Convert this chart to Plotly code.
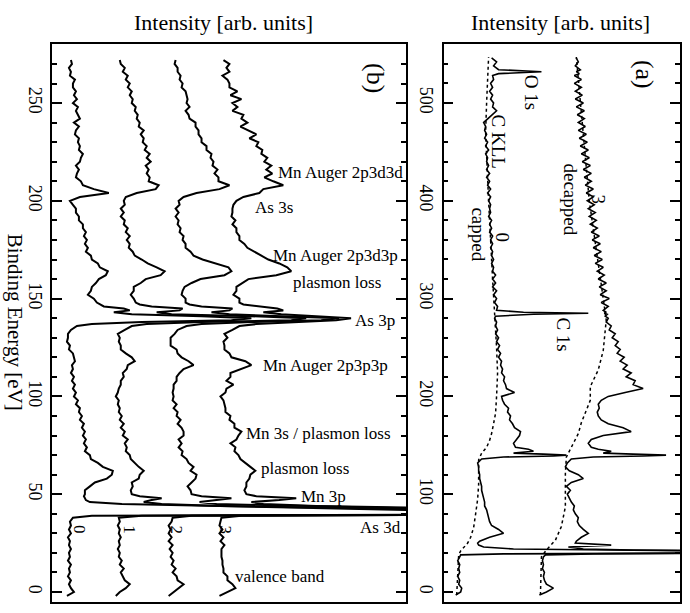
import plotly.graph_objects as go

# ---------------- Panel (b): four spectra (binding energy grid shared) ----------------
be_b = [-2, 0, 2, 4, 6, 8, 10, 12, 14, 16, 18, 20, 22, 24, 26, 28, 30, 32, 34, 36, 38,
        39, 39.5, 40, 40.5, 41, 41.5, 42, 43, 44, 45, 46, 47, 48, 49, 50,
        52, 54, 56, 58, 60, 62, 64, 66, 68, 70, 72, 74, 76, 78, 80, 82, 84, 86, 88, 90, 92,
        94, 96, 98, 100, 102, 104, 106, 108, 110, 112, 114, 116, 118, 120, 122, 124, 126,
        128, 130, 132, 134,
        136, 137, 138, 139, 140, 141, 142, 143, 144, 145, 146, 147, 148,
        150, 152, 154, 156, 158, 160, 162, 164, 166, 168, 170, 172, 174, 176, 178, 180, 182,
        184, 186, 188, 190, 192, 194, 196, 198, 200, 202, 204, 206, 208, 210, 212, 214, 216,
        218, 220, 222, 224, 226, 228, 230, 232, 234, 236, 238, 240, 242, 244, 246, 248, 250,
        252, 254, 256, 258, 260, 262, 264, 266, 268, 270, 272]

spec_0 = [15, 22, 19, 17, 19, 16, 18, 17, 19, 16, 18, 17, 19, 17, 18, 16, 19, 17, 19, 18, 21,
          40, 400, 600, 700, 650, 520, 355, 250, 150, 70, 38, 34, 33, 32, 33,
          33, 38, 43, 55, 60, 61, 51, 46, 39, 38, 33, 35, 32, 34, 31, 33, 30, 32, 28, 30, 27,
          28, 24, 26, 22, 24, 21, 23, 20, 22, 19, 21, 20, 23, 22, 21, 17, 18, 15, 16, 16, 19,
          25, 40, 90, 180, 200, 150, 80, 62, 78, 72, 52, 48, 45,
          42, 36, 39, 40, 44, 47, 54, 56, 48, 46, 40, 39, 34, 36, 33, 35, 32, 34, 31, 31, 27,
          27, 24, 24, 21, 18, 28, 57, 42, 31, 29, 24, 25, 27, 24, 28, 29, 31, 27, 28, 26, 27,
          23, 24, 27, 22, 28, 26, 24, 26, 21, 25, 22, 24, 21, 21, 23, 18, 19, 17, 20, 19]

spec_1 = [64, 68, 74, 78, 73, 71, 69, 72, 68, 70, 67, 68, 66, 68, 67, 69, 67, 68, 66, 68, 67,
          90, 420, 620, 720, 680, 540, 400, 290, 170, 110, 92, 100, 110, 88, 80,
          79, 81, 80, 87, 88, 92, 87, 83, 79, 78, 74, 75, 73, 76, 71, 73, 69, 72, 68, 70, 67,
          68, 66, 67, 64, 66, 67, 69, 69, 72, 71, 75, 76, 83, 80, 74, 69, 69, 67, 68, 66, 73,
          80, 95, 150, 240, 255, 200, 120, 105, 128, 131, 100, 88, 84,
          82, 79, 82, 82, 89, 94, 109, 113, 105, 96, 90, 83, 81, 77, 78, 75, 78, 74, 76, 72,
          73, 69, 72, 69, 73, 72, 74, 85, 104, 107, 97, 98, 95, 97, 94, 99, 95, 98, 93, 95, 91,
          92, 89, 92, 87, 88, 85, 86, 83, 84, 80, 81, 78, 80, 76, 78, 74, 76, 71, 73, 69, 68]

spec_2 = [117, 122, 128, 132, 126, 125, 121, 124, 120, 122, 119, 121, 118, 121, 117, 120, 117,
          119, 117, 120, 121,
          140, 440, 660, 760, 720, 570, 430, 330, 230, 165, 148, 165, 180, 150, 140,
          139, 136, 140, 144, 145, 139, 142, 137, 135, 130, 131, 127, 130, 127, 132, 132, 130,
          126, 129, 125, 126, 122, 125, 121, 122, 121, 122, 122, 125, 125, 128, 132, 142, 137,
          130, 126, 125, 119, 119, 119, 123, 126,
          135, 150, 200, 270, 288, 235, 178, 160, 178, 181, 150, 138, 134,
          134, 130, 131, 133, 140, 149, 173, 180, 177, 164, 151, 142, 139, 134, 134, 131, 132,
          128, 129, 126, 127, 124, 127, 124, 128, 127, 132, 145, 168, 178, 167, 167, 163, 166,
          161, 162, 159, 160, 155, 155, 150, 150, 147, 147, 144, 144, 138, 137, 134, 138, 135,
          136, 135, 134, 130, 131, 128, 129, 126, 126, 123, 124]

spec_3 = [168, 176, 184, 181, 176, 176, 172, 172, 171, 171, 170, 170, 170, 173, 169, 172, 168,
          171, 168, 169, 170,
          190, 460, 700, 800, 760, 610, 480, 370, 265, 212, 200, 228, 245, 205, 195,
          193, 195, 195, 198, 199, 204, 199, 194, 189, 187, 183, 184, 179, 185, 187, 190, 183,
          183, 178, 179, 174, 174, 173, 172, 169, 174, 175, 182, 175, 179, 179, 189, 200, 194,
          180, 178, 173, 173, 172, 176, 173, 181,
          188, 205, 240, 285, 300, 270, 230, 212, 232, 226, 205, 192, 188,
          188, 182, 185, 185, 191, 197, 225, 240, 236, 228, 217, 210, 203, 196, 193, 188, 188,
          185, 185, 181, 184, 180, 181, 181, 182, 185, 192, 208, 212, 232, 222, 213, 221, 215,
          220, 213, 216, 210, 211, 205, 207, 198, 205, 197, 189, 196, 190, 192, 181, 186, 181,
          190, 179, 186, 178, 178, 176, 171, 178, 175, 178, 172]

# ---------------- Panel (a): survey spectra ----------------
be_a = [-3, 0, 4, 8, 12, 16, 20, 24, 28, 32, 36,
        38, 39, 40, 41, 42, 43, 44, 46, 48, 50,
        52, 56, 60, 64, 68, 72, 76, 80, 84, 88, 92, 96, 100, 104, 108, 112, 116, 120, 124,
        128, 132, 136,
        138, 139, 140, 141, 142, 144, 146, 148,
        152, 156, 160, 164, 168, 172, 176, 180, 184, 188, 192, 196, 200, 204, 208, 212, 216,
        220, 224, 228, 232, 236, 240, 244, 248, 252, 256, 260, 264, 268, 272, 276, 280,
        282, 284, 285, 286, 288,
        292, 296, 300, 304, 308, 312, 316, 320, 324, 328, 332, 336, 340, 344, 348, 352, 356,
        360, 364, 368, 372, 376, 380, 384, 388, 392, 396, 400, 404, 408, 412, 416, 420, 424,
        428, 432, 436, 440, 444, 448, 452, 456, 460, 464, 468, 472, 476, 480, 484, 488, 492,
        496, 500, 504, 508, 512, 516, 520, 524, 528,
        530, 532, 534,
        538, 542, 546]

capped = [12, 17, 18, 15, 16, 14, 16, 15, 16, 14, 16,
          17, 60, 400, 500, 250, 120, 70, 40, 35, 34,
          36, 46, 60, 55, 48, 46, 45, 44, 43, 41, 41, 40, 39, 38, 38, 37, 36, 36, 35, 35, 34, 38,
          60, 110, 123, 100, 70, 90, 85, 72,
          70, 73, 76, 77, 71, 69, 66, 67, 64, 65, 61, 59, 58, 71, 63, 62, 60, 61, 58, 59, 57,
          58, 55, 57, 54, 56, 53, 55, 52, 54, 52, 53, 51,
          52, 90, 145, 80, 53,
          54, 51, 53, 50, 53, 49, 52, 49, 52, 49, 50, 48, 50, 48, 49, 47, 49, 47, 49, 46, 48,
          46, 48, 45, 47, 46, 47, 45, 47, 44, 47, 44, 46, 43, 46, 43, 45, 43, 44, 42, 45, 42,
          44, 41, 43, 41, 42, 40, 44, 48, 53, 49, 50, 47, 49, 46, 49, 47, 50, 49,
          55, 98, 55,
          50, 53, 48]

decapped = [96, 103, 110, 103, 101, 100, 101, 99, 100, 99, 100,
            102, 150, 400, 500, 300, 190, 140, 125, 168, 132,
            133, 138, 145, 140, 136, 134, 135, 132, 130, 131, 128, 126, 124, 127, 123, 128, 140,
            135, 126, 122, 124, 128,
            150, 200, 223, 190, 160, 168, 155, 148,
            145, 148, 160, 188, 180, 165, 158, 155, 154, 156, 155, 158, 165, 182, 200, 190, 192,
            183, 188, 180, 184, 177, 181, 174, 177, 172, 175, 169, 172, 166, 168, 163, 165,
            162, 164, 161, 163, 160,
            165, 158, 166, 157, 163, 156, 163, 155, 161, 154, 160, 152, 159, 151, 158, 150, 157,
            149, 156, 148, 154, 147, 153, 146, 152, 145, 151, 144, 150, 143, 150, 142, 148, 141,
            148, 140, 147, 139, 146, 138, 145, 137, 144, 136, 143, 135, 142, 135, 141, 134, 141,
            133, 140, 132, 139, 132, 138, 131, 138, 131,
            136, 133, 137,
            132, 135, 133]

be_bg_capped = [-3, 38, 42, 46, 50, 56, 66, 80, 95, 110, 135, 142, 148, 155, 162, 172, 183,
                200, 224, 250, 280, 320, 400, 470, 500, 547]
bg_capped = [13, 15, 17, 21, 24, 27, 30, 32, 34, 35, 35, 38, 43, 46, 48, 50, 52, 53, 54, 53,
             51, 49, 45, 42, 43, 45]

be_bg_decapped = [-3, 36, 43, 53, 67, 87, 121, 138, 148, 162, 173, 196, 210, 227, 247, 278,
                  300, 400, 547]
bg_decapped = [97, 98, 103, 112, 118, 122, 122, 123, 128, 135, 138, 147, 147, 155, 160, 163,
               160, 146, 133]

for arr in (spec_0, spec_1, spec_2, spec_3):
    assert len(arr) == len(be_b), len(arr)
assert len(capped) == len(be_a) == len(decapped), (len(capped), len(be_a), len(decapped))
assert len(bg_capped) == len(be_bg_capped)
assert len(bg_decapped) == len(be_bg_decapped)

FONT = "Liberation Serif"

fig = go.Figure()
for vals in (spec_0, spec_1, spec_2, spec_3):
    fig.add_trace(go.Scatter(x=vals, y=be_b, mode="lines", xaxis="x", yaxis="y",
                             line=dict(color="black", width=2), showlegend=False,
                             hoverinfo="skip"))

for bex, vals in ((be_bg_capped, bg_capped), (be_bg_decapped, bg_decapped)):
    fig.add_trace(go.Scatter(x=vals, y=bex, mode="lines", xaxis="x2", yaxis="y2",
                             line=dict(color="black", width=1.5, dash="dot"),
                             showlegend=False, hoverinfo="skip"))
for vals in (capped, decapped):
    fig.add_trace(go.Scatter(x=vals, y=be_a, mode="lines", xaxis="x2", yaxis="y2",
                             line=dict(color="black", width=1.6), showlegend=False,
                             hoverinfo="skip"))

common_x = dict(showline=True, mirror=True, linecolor="black", linewidth=1.5,
                showticklabels=False, ticks="", showgrid=False, zeroline=False)
common_y = dict(showline=True, mirror="ticks", linecolor="black", linewidth=1.5,
                ticks="inside", ticklen=10, tickwidth=1.5, tickcolor="black",
                tickangle=90, tickfont=dict(family=FONT, size=18, color="black"),
                showgrid=False, zeroline=False)

fig.update_layout(
    width=690, height=613,
    margin=dict(l=52, r=8, t=44, b=11),
    paper_bgcolor="white", plot_bgcolor="white",
    hovermode=False,
    font=dict(family=FONT, color="black"),
    xaxis=dict(domain=[0, 0.5635], range=[0, 355], anchor="y", **common_x),
    xaxis2=dict(domain=[0.6238, 1], range=[0, 237], anchor="y2", **common_x),
    yaxis=dict(range=[-5.1, 280.2], anchor="x", tick0=0, dtick=50,
               minor=dict(dtick=10, ticks="inside", ticklen=5, tickwidth=1.5,
                          tickcolor="black"), **common_y),
    yaxis2=dict(range=[-10.2, 560.3], anchor="x2", tick0=0, dtick=100,
                minor=dict(dtick=20, ticks="inside", ticklen=5, tickwidth=1.5,
                           tickcolor="black"), **common_y),
)

ann = []
ann.append(dict(text="Intensity [arb. units]", xref="paper", yref="paper", x=0.273, y=1.0394,
                showarrow=False, font=dict(size=22, family=FONT), xanchor="center", yanchor="middle"))
ann.append(dict(text="Intensity [arb. units]", xref="paper", yref="paper", x=0.810, y=1.0394,
                showarrow=False, font=dict(size=22, family=FONT), xanchor="center", yanchor="middle"))
ann.append(dict(text="Binding Energy [eV]", xref="paper", yref="paper", x=-0.0587, y=0.502,
                showarrow=False, textangle=90, font=dict(size=21, family=FONT),
                xanchor="center", yanchor="middle", borderpad=0))

b_labels = [("Mn Auger 2p3d3d", 225, 214.7), ("As 3s", 202, 196.8),
            ("Mn Auger 2p3d3p", 220, 172.3), ("plasmon loss", 240, 158.5),
            ("As 3p", 302, 139.0), ("Mn Auger 2p3p3p", 210, 116.0),
            ("Mn 3s / plasmon loss", 193, 81.3), ("plasmon loss", 208, 63.4),
            ("Mn 3p", 248, 48.6), ("As 3d", 307, 33.2), ("valence band", 182, 7.7)]
for t, x, y in b_labels:
    ann.append(dict(text=t, xref="x", yref="y", x=x, y=y, showarrow=False,
                    xanchor="left", yanchor="middle", font=dict(size=17, family=FONT)))
for t, x in (("0", 28), ("1", 78), ("2", 125), ("3", 175)):
    ann.append(dict(text=t, xref="x", yref="y", x=x, y=31.7, showarrow=False, textangle=90,
                    xanchor="center", yanchor="middle", font=dict(size=17, family=FONT)))
ann.append(dict(text="(b)", xref="x", yref="y", x=325, y=262.8, showarrow=False, textangle=90,
                xanchor="center", yanchor="middle", font=dict(size=26, family=FONT)))

a_labels = [("(a)", 202, 529.6, 26), ("O 1s", 88, 511, 19), ("C KLL", 55, 461, 19),
            ("decapped", 127, 401, 19), ("3", 155, 401, 19), ("0", 58, 363, 19),
            ("capped", 35, 366, 19), ("C 1s", 120, 263, 19)]
for t, x, y, s in a_labels:
    ann.append(dict(text=t, xref="x2", yref="y2", x=x, y=y, showarrow=False, textangle=90,
                    xanchor="center", yanchor="middle", font=dict(size=s, family=FONT)))

fig.update_layout(annotations=ann)
# remove the default 8 px page margin so the 690x613 figure fills the window exactly
fig.write_html("out.html", config={"displayModeBar": False},
               post_script="document.body.style.margin='0px';")
